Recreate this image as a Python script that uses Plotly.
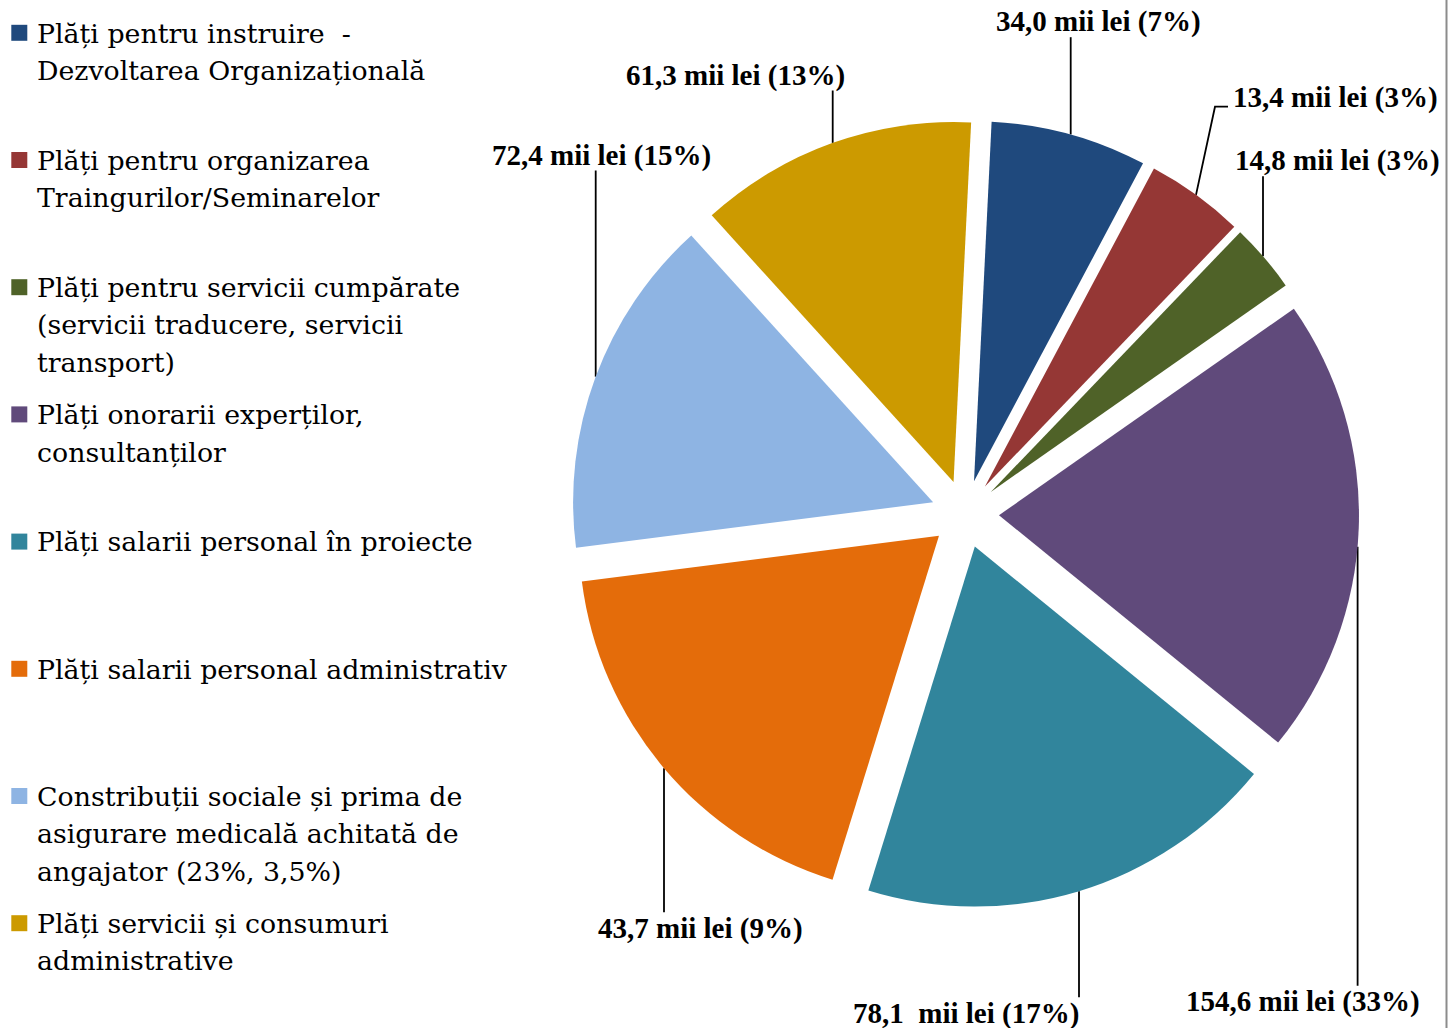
import math
import plotly.graph_objects as go

# ---------------- data ----------------
categories = [
    "Plăți pentru instruire\u00a0 -\nDezvoltarea Organizațională",
    "Plăți pentru organizarea\nTraingurilor/Seminarelor",
    "Plăți pentru servicii cumpărate\n(servicii traducere, servicii\ntransport)",
    "Plăți onorarii experților,\nconsultanților",
    "Plăți salarii personal în proiecte",
    "Plăți salarii personal administrativ",
    "Constribuții sociale și prima de\nasigurare medicală achitată de\nangajator (23%, 3,5%)",
    "Plăți servicii și consumuri\nadministrative",
]
amounts_mii_lei = [34.0, 13.4, 14.8, 154.6, 78.1, 43.7, 72.4, 61.3]
percent_labels = [7, 3, 3, 33, 17, 9, 15, 13]
# slice sizes as drawn in the picture (share of the circle, %)
slice_share = [7.0, 4.4, 3.1, 20.6, 18.9, 18.2, 15.3, 12.5]
colors = ["#1F497D", "#953735", "#4F6228", "#604A7B",
          "#31859C", "#E46C0A", "#8EB4E3", "#CC9A00"]

# ---------------- layout constants (pixels) ----------------
W, H = 1454, 1028
CX, CY = 965.0, 514.0          # pie centre
R_TOTAL = 394.0                # radius incl. pull
PULL = 0.0944
ROT = 2.8
R = R_TOTAL / (1 + PULL)

# label placement: centre x, baseline y, leader x, side of label
label_cx = [1098.5, 1335.5, 1337.0, 1302.5, 965.8, 700.0, 601.3, 735.8]
label_base = [31.7, 107.3, 170.7, 1011.7, 1023.3, 938.3, 165.0, 85.0]
leader_x = [1070.7, 1196.0, 1263.0, 1357.6, 1079.0, 664.0, 595.7, 832.7]
label_side = ["top", "top", "top", "bottom", "bottom", "bottom", "top", "top"]
leader_elbow = [None, (1215.0, 106.7, 1228.0), None, None, None, None, None, None]

legend_x_text = 35.0
legend_first_base = 42.3
legend_step = 127.2
legend_line_gap = 37.5

# ---------------- geometry from the data ----------------
tot = sum(slice_share)
starts, mids = [], []
a = ROT
for s in slice_share:
    span = s / tot * 360.0
    starts.append(a)
    mids.append(a + span / 2)
    a += span


def arc_y(i, x, upper):
    m = math.radians(mids[i])
    sx = CX + PULL * R * math.sin(m)
    sy = CY - PULL * R * math.cos(m)
    d = max(R * R - (x - sx) ** 2, 0.0)
    return sy - math.sqrt(d) if upper else sy + math.sqrt(d)


fig = go.Figure()

# leader lines
lx, ly = [], []
for i in range(len(amounts_mii_lei)):
    upper = label_side[i] == "top"
    yarc = arc_y(i, leader_x[i], upper)
    if leader_elbow[i] is not None:
        ex, ey, hx = leader_elbow[i]
        lx += [hx, ex, leader_x[i], None]
        ly += [ey, ey, yarc, None]
    else:
        yend = label_base[i] + 5.5 if upper else label_base[i] - 26.0
        lx += [leader_x[i], leader_x[i], None]
        ly += [yend, yarc, None]

fig.add_trace(go.Scatter(x=lx, y=ly, mode="lines",
                         line=dict(color="#000000", width=1.8),
                         hoverinfo="skip", showlegend=False))

# legend markers
mk_x, mk_y = [], []
for k in range(len(categories)):
    base = legend_first_base + k * legend_step
    mk_x.append(19.3)
    mk_y.append(base - 9.5)
fig.add_trace(go.Scatter(x=mk_x, y=mk_y, mode="markers",
                         marker=dict(symbol="square", size=16, color=colors,
                                     line=dict(width=0)),
                         hoverinfo="skip", showlegend=False))

# pie
fig.add_trace(go.Pie(
    values=slice_share,
    labels=[c.replace("\n", " ") for c in categories],
    marker=dict(colors=colors, line=dict(width=0)),
    sort=False, direction="clockwise", rotation=ROT,
    pull=PULL, textinfo="none", showlegend=False,
    hovertemplate="%{label}<extra></extra>",
    domain=dict(x=[(CX - R_TOTAL) / W, (CX + R_TOTAL) / W],
                y=[1 - (CY + R_TOTAL) / H, 1 - (CY - R_TOTAL) / H]),
))

annotations = []
# data labels
LBL_SIZE = 29
for i, v in enumerate(amounts_mii_lei):
    num = f"{v:.1f}".replace(".", ",")
    sep = "\u00a0 " if i == 4 else " "
    txt = f"<b>{num}{sep}mii lei ({percent_labels[i]}%)</b>"
    annotations.append(dict(
        x=label_cx[i], y=label_base[i] - 0.34 * LBL_SIZE, xref="x", yref="y",
        text=txt, showarrow=False, xanchor="center", yanchor="middle",
        font=dict(family="Liberation Serif", size=LBL_SIZE, color="#000000")))

# legend text
LEG_SIZE = 26.8
for k, c in enumerate(categories):
    base = legend_first_base + k * legend_step
    for j, line in enumerate(c.split("\n")):
        b = base + j * legend_line_gap
        annotations.append(dict(
            x=legend_x_text, y=b - 0.346 * LEG_SIZE, xref="x", yref="y",
            text=line, showarrow=False, xanchor="left", yanchor="middle",
            font=dict(family="DejaVu Serif", size=LEG_SIZE, color="#000000")))

fig.update_layout(
    width=W, height=H,
    margin=dict(l=0, r=0, t=0, b=0),
    paper_bgcolor="white", plot_bgcolor="rgba(0,0,0,0)",
    xaxis=dict(range=[0, W], visible=False, fixedrange=True, domain=[0, 1]),
    yaxis=dict(range=[H, 0], visible=False, fixedrange=True, domain=[0, 1]),
    annotations=annotations,
    shapes=[dict(type="line", xref="x", yref="y", x0=1446.5, x1=1446.5,
                 y0=0, y1=H, line=dict(color="#8C8C8C", width=2))],
    showlegend=False,
)

fig.write_html("out.html", config={"displayModeBar": False},
               post_script="document.body.style.margin='0';"
                           "document.body.style.overflow='hidden';")
